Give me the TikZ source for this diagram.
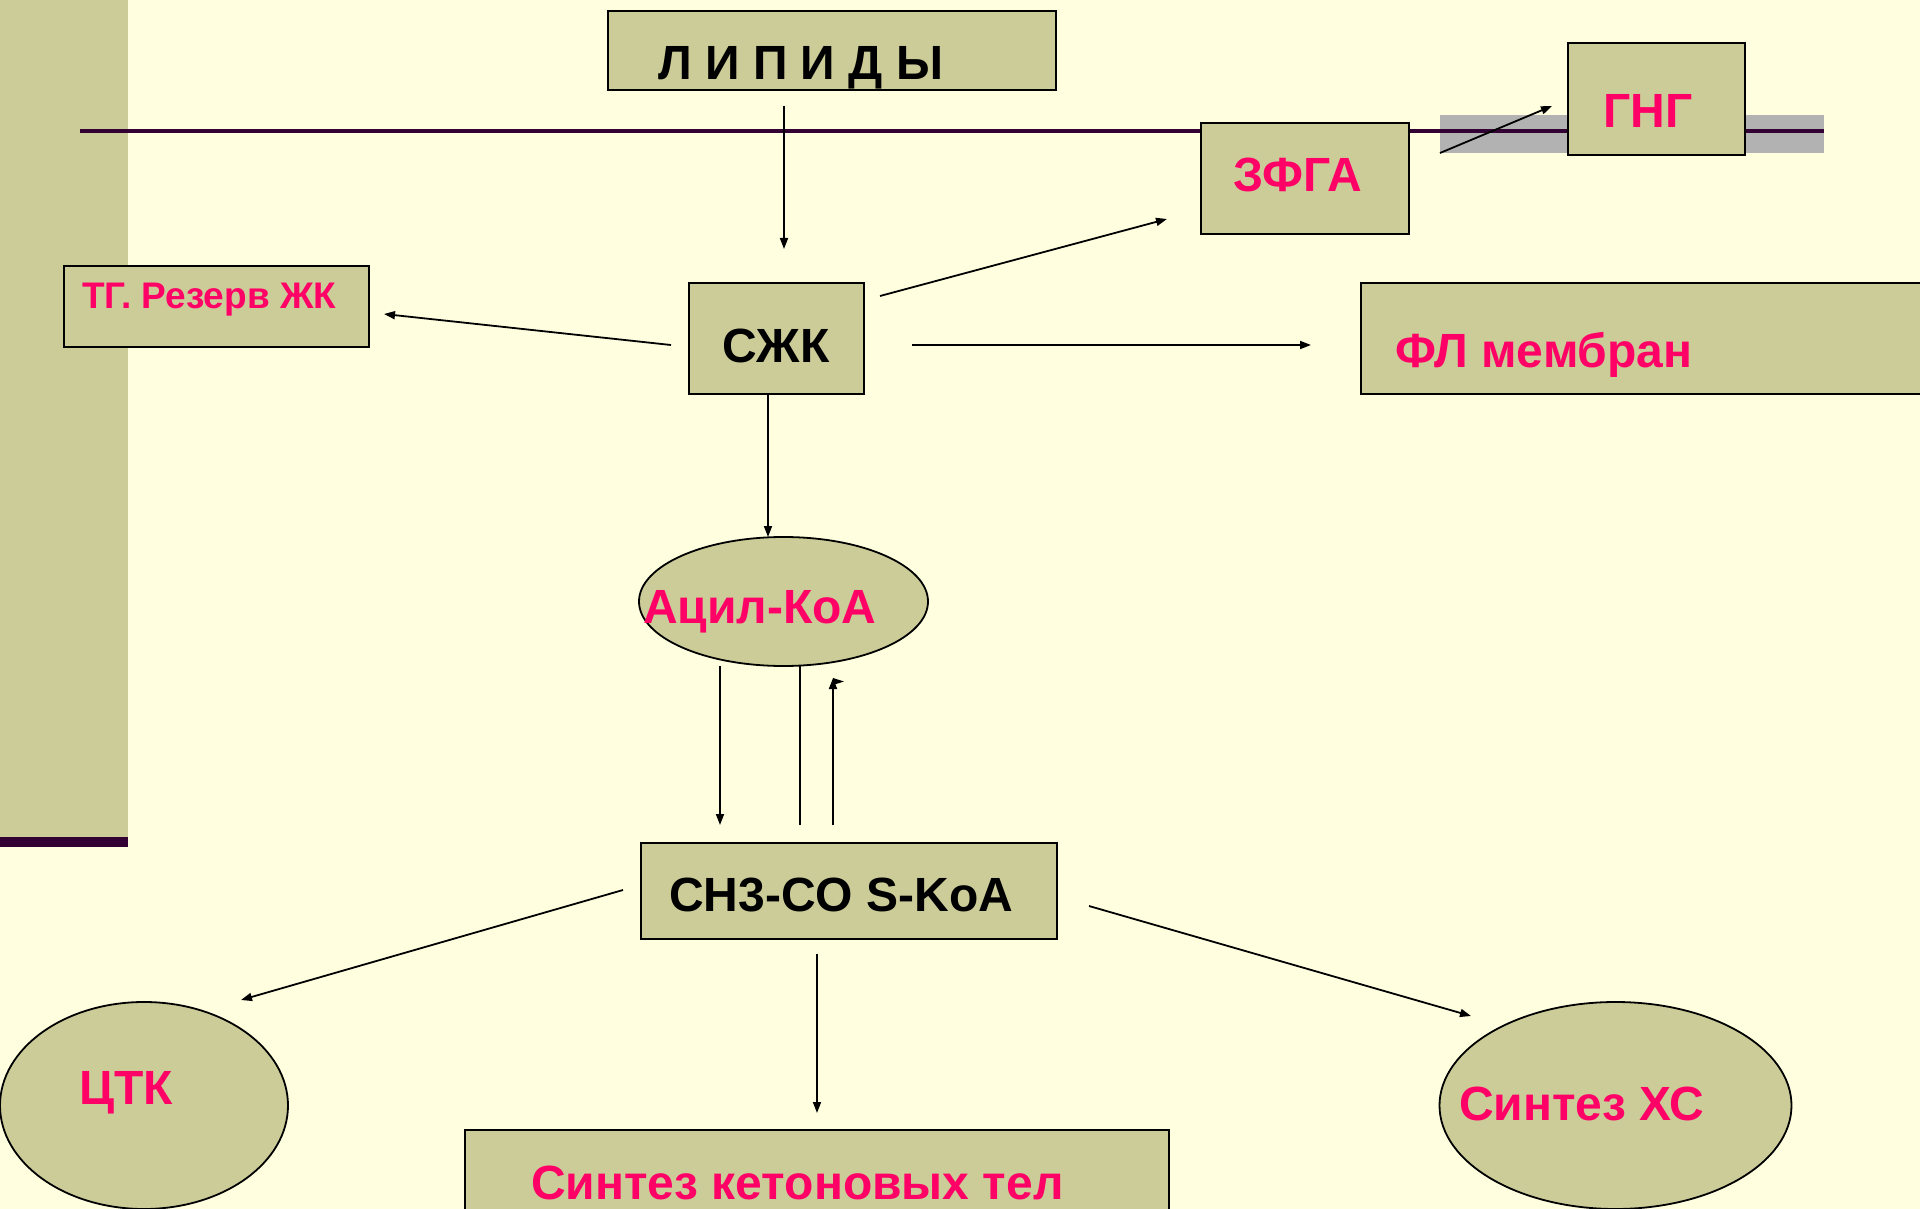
\documentclass[tikz,border=0pt]{standalone}
\usepackage{fontspec}
\setmainfont{Liberation Sans}
\usetikzlibrary{arrows.meta,shapes.geometric}
\definecolor{bg}{HTML}{FFFFE0}
\definecolor{khaki}{HTML}{CCCC99}
\definecolor{pinkt}{HTML}{FF0066}
\definecolor{plum}{HTML}{330033}
\definecolor{band}{HTML}{B2B2B2}
\tikzset{
  box/.style={draw=black, line width=1.8pt, fill=khaki, rectangle, inner sep=0pt, anchor=north west},
  oval/.style={draw=black, line width=1.8pt, fill=khaki, ellipse, inner sep=0pt},
  lbl/.style={inner sep=0pt, anchor=base west, font=\bfseries\fontsize{48}{48}\selectfont},
  pinklbl/.style={lbl, text=pinkt},
  arr/.style={line width=1.8pt, -{Triangle[length=11pt,width=8pt]}},
}
\begin{document}
\begin{tikzpicture}[x=1pt,y=-1pt]
\useasboundingbox (0,0) rectangle (1920,1209);
\clip (0,0) rectangle (1920,1209);
% background
\fill[bg] (0,0) rectangle (1920,1209);
% left sidebar
\fill[khaki] (0,0) rectangle (128,837);
\fill[plum] (0,837) rectangle (128,847);
% grey band and membrane line
\fill[band] (1440,115) rectangle (1824,153);
\draw[plum, line width=4pt] (80,131) -- (1824,131);

% boxes
\node[box, minimum width=448, minimum height=79] (lip) at (607,10) {};
\node[lbl] (liptxt) at (658,80) {Л И П И Д Ы};
\node[box, minimum width=175, minimum height=111] (szk) at (688,282) {};
\node[lbl, anchor=base] (szktxt) at (776,362) {СЖК};
\node[box, minimum width=208, minimum height=111] (zfga) at (1200,122) {};
\node[pinklbl, anchor=base] (zfgatxt) at (1298,192) {ЗФГА};
\node[box, minimum width=177, minimum height=112] (gng) at (1567,42) {};
\node[pinklbl, anchor=base] (gngtxt) at (1648,128) {ГНГ};
\node[box, minimum width=305, minimum height=81] (tg) at (63,265) {};
\node[pinklbl, font=\bfseries\fontsize{37}{37}\selectfont] (tgtxt) at (82,308) {ТГ. Резерв ЖК};
\node[box, minimum width=562, minimum height=111] (fl) at (1360,282) {};
\node[pinklbl] (fltxt) at (1395,367) {ФЛ мембран};
\node[oval, minimum width=289, minimum height=129] (acyl) at (783.5,601.5) {};
\node[pinklbl] (acyltxt) at (643,623) {Ацил-КоА};
\node[box, minimum width=416, minimum height=96] (ch3) at (640,842) {};
\node[lbl] (ch3txt) at (669,911) {CH3-CO S-KoA};
\node[oval, minimum width=288, minimum height=207] (ctk) at (144,1105.5) {};
\node[pinklbl] (ctktxt) at (79,1104) {ЦТК};
\node[box, minimum width=704, minimum height=120] (keton) at (464,1129) {};
\node[pinklbl] (ketontxt) at (531,1199) {Синтез кетоновых тел};
\node[oval, minimum width=352, minimum height=207] (xs) at (1615.5,1105.5) {};
\node[pinklbl] (xstxt) at (1459,1120) {Синтез ХС};

% connector end points
\coordinate (a1s) at (784,106);  \coordinate (a1e) at (784,249);
\coordinate (a2s) at (671,345);  \coordinate (a2e) at (384,314);
\coordinate (a3s) at (880,296);  \coordinate (a3e) at (1167,219);
\coordinate (a4s) at (912,345);  \coordinate (a4e) at (1311,345);
\coordinate (a5s) at (768,393);  \coordinate (a5e) at (768,537);
\coordinate (a6s) at (720,666);  \coordinate (a6e) at (720,825);
\coordinate (a7s) at (800,666);  \coordinate (a7e) at (800,825);
\coordinate (a8s) at (833,825);  \coordinate (a8e) at (833,678);
\coordinate (a9s) at (1440,153); \coordinate (a9e) at (1552,106);
\coordinate (b1s) at (623,890);  \coordinate (b1e) at (241,1000);
\coordinate (b2s) at (817,954);  \coordinate (b2e) at (817,1113);
\coordinate (b3s) at (1089,906); \coordinate (b3e) at (1471,1016);

% connectors
\draw[arr] (a1s) -- (a1e);
\draw[arr] (a2s) -- (a2e);
\draw[arr] (a3s) -- (a3e);
\draw[arr] (a4s) -- (a4e);
\draw[arr] (a5s) -- (a5e);
\draw[arr] (a6s) -- (a6e);
\draw[line width=1.8pt] (a7s) -- (a7e);
\draw[arr] (a8s) -- (a8e);
\fill (a8e) -- ++(11,3.5) -- ++(-11,3.5) -- cycle;
\draw[arr] (a9s) -- (a9e);
\draw[arr] (b1s) -- (b1e);
\draw[arr] (b2s) -- (b2e);
\draw[arr] (b3s) -- (b3e);
\end{tikzpicture}
\end{document}
